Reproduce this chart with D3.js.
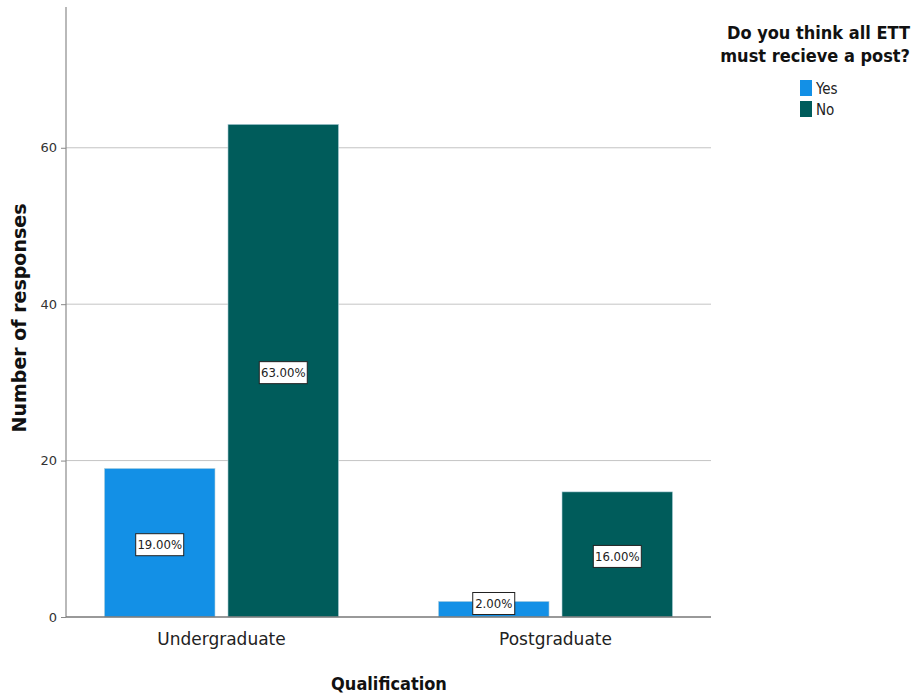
<!DOCTYPE html>
<html>
<head>
<meta charset="utf-8">
<script src="https://cdn.jsdelivr.net/npm/d3@7"></script>
<style>
  body { margin: 0; background: #fff; }
  text { font-family: "DejaVu Sans", sans-serif; }
  .cond { font-family: "DejaVu Sans Condensed", "DejaVu Sans", sans-serif; font-stretch: condensed; }
</style>
</head>
<body>
<div id="chart"></div>
<script>
// data
const categories = ["Undergraduate", "Postgraduate"];
const series = ["Yes", "No"];
const yesValues = [19, 2];
const noValues = [63, 16];
const pctLabels = [["19.00%", "63.00%"], ["2.00%", "16.00%"]];
const yTicks = [0, 20, 40, 60];
const colors = ["#1390e6", "#005c5b"];

const W = 914, H = 695;
const svg = d3.select("#chart").append("svg")
    .attr("width", W)
    .attr("height", H);

// scales
const x0 = d3.scaleBand()
    .domain(categories)
    .range([66, 711])
    .paddingInner(0.299)
    .paddingOuter(0.115);

const x1 = d3.scaleBand()
    .domain(series)
    .range([0, x0.bandwidth()])
    .paddingInner(0.105);

const y = d3.scaleLinear()
    .domain([0, 78])
    .range([617, 7]);

// gridlines
svg.append("g")
    .selectAll("line")
    .data(yTicks.filter(d => d > 0))
    .join("line")
    .attr("x1", 66).attr("x2", 711)
    .attr("y1", d => y(d)).attr("y2", d => y(d))
    .attr("stroke", "#c4c4c4")
    .attr("stroke-width", 1);

// y axis
const yAxis = svg.append("g")
    .attr("transform", "translate(66,0)")
    .call(d3.axisLeft(y).tickValues(yTicks).tickSize(5).tickPadding(4));
yAxis.select(".domain").remove();
yAxis.selectAll(".tick line").attr("stroke", "#888");
yAxis.selectAll(".tick text").attr("fill", "#333").style("font-size", "13px");
svg.append("line")
    .attr("x1", 66).attr("x2", 66)
    .attr("y1", y(78)).attr("y2", y(0))
    .attr("stroke", "#8a8a8a").attr("stroke-width", 1.2);

// bars
const rows = categories.map((c, i) => ({
    cat: c,
    vals: [
        { s: "Yes", v: yesValues[i], label: pctLabels[i][0], color: colors[0] },
        { s: "No", v: noValues[i], label: pctLabels[i][1], color: colors[1] }
    ]
}));

const groups = svg.append("g")
    .selectAll("g")
    .data(rows)
    .join("g")
    .attr("transform", d => `translate(${x0(d.cat)},0)`);

groups.selectAll("rect")
    .data(d => d.vals)
    .join("rect")
    .attr("x", d => x1(d.s))
    .attr("y", d => y(d.v))
    .attr("width", x1.bandwidth())
    .attr("height", d => y(0) - y(d.v))
    .attr("fill", d => d.color)
    .attr("stroke", "#b8d4de")
    .attr("stroke-width", 0.6);

// x axis line
svg.append("line")
    .attr("x1", 66).attr("x2", 711)
    .attr("y1", y(0)).attr("y2", y(0))
    .attr("stroke", "#777").attr("stroke-width", 1.5);

// value labels
const lab = groups.selectAll("g.lab")
    .data(d => d.vals)
    .join("g")
    .attr("class", "lab")
    .attr("transform", d => {
        let cy = (y(d.v) + y(0)) / 2 + 2;
        if (y(0) - y(d.v) < 24) cy = y(0) - 13.5;
        return `translate(${x1(d.s) + x1.bandwidth() / 2},${cy})`;
    });

lab.append("rect")
    .attr("x", d => d.label.length > 5 ? -24 : -21)
    .attr("y", -11)
    .attr("width", d => d.label.length > 5 ? 48 : 42)
    .attr("height", 22)
    .attr("fill", "#fff")
    .attr("stroke", "#222")
    .attr("stroke-width", 1);

lab.append("text")
    .attr("class", "cond")
    .attr("text-anchor", "middle")
    .attr("dy", "0.36em")
    .style("font-size", "13px")
    .attr("fill", "#222")
    .text(d => d.label);

// x tick labels
svg.append("g")
    .selectAll("text")
    .data(categories)
    .join("text")
    .attr("x", d => x0(d) + x0.bandwidth() / 2)
    .attr("y", 645)
    .attr("text-anchor", "middle")
    .style("font-size", "17px")
    .attr("fill", "#222")
    .text(d => d);

// axis titles
svg.append("text")
    .attr("class", "cond")
    .attr("x", 389).attr("y", 690)
    .attr("text-anchor", "middle")
    .style("font-size", "18px")
    .style("font-weight", "bold")
    .attr("fill", "#111")
    .text("Qualification");

svg.append("text")
    .attr("transform", "translate(26,318) rotate(-90)")
    .attr("text-anchor", "middle")
    .style("font-size", "19px")
    .style("font-weight", "bold")
    .attr("fill", "#111")
    .text("Number of responses");

// legend
const legendTitle = ["Do you think all ETT", "must recieve a post?"];
svg.append("g")
    .selectAll("text")
    .data(legendTitle)
    .join("text")
    .attr("class", "cond")
    .attr("x", 910)
    .attr("y", (d, i) => 39 + i * 23)
    .attr("text-anchor", "end")
    .style("font-size", "18px")
    .style("font-weight", "bold")
    .attr("fill", "#111")
    .text(d => d);

const leg = svg.append("g")
    .selectAll("g")
    .data(series)
    .join("g")
    .attr("transform", (d, i) => `translate(800,${80 + i * 21})`);

leg.append("rect")
    .attr("width", 12).attr("height", 16)
    .attr("fill", (d, i) => colors[i]);

leg.append("text")
    .attr("class", "cond")
    .attr("x", 16).attr("y", 14)
    .style("font-size", "15px")
    .attr("fill", "#222")
    .text(d => d);
</script>
</body>
</html>
